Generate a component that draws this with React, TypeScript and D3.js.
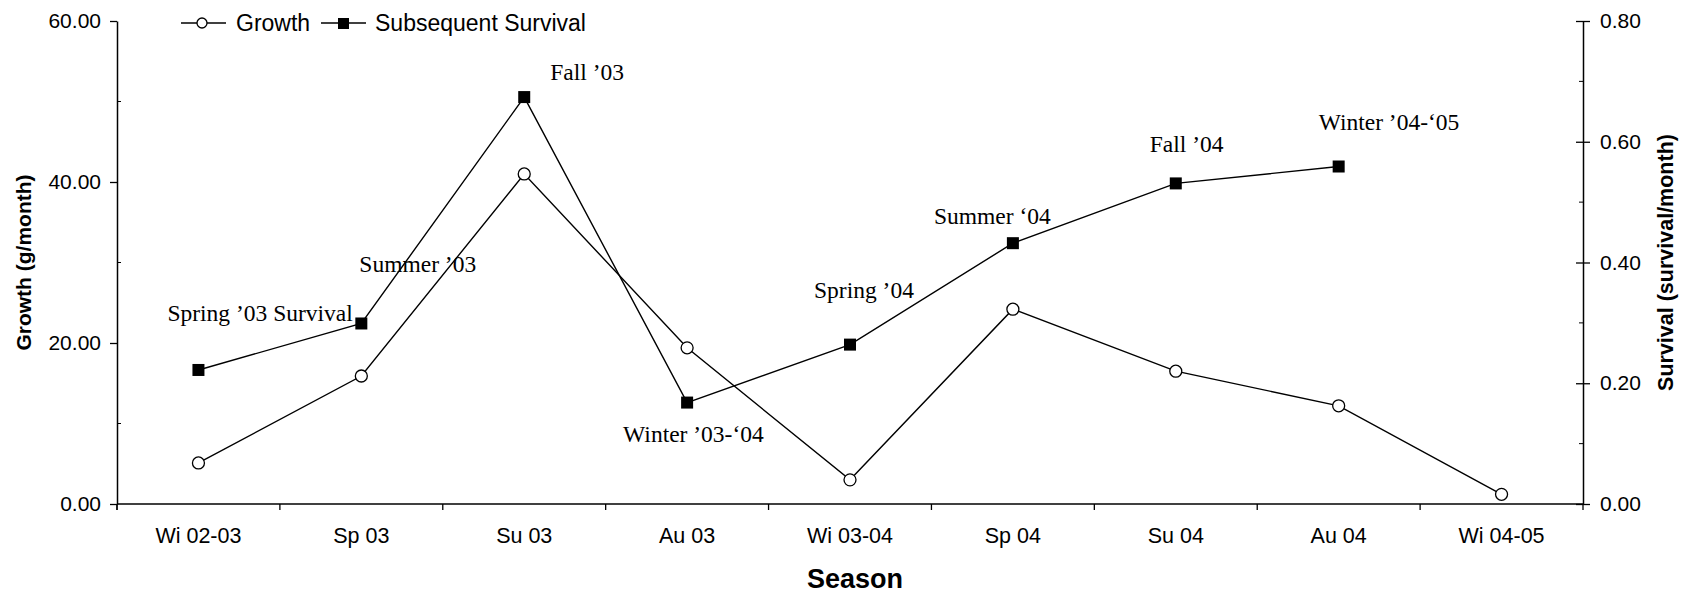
import React, { useEffect, useRef } from 'react';
import * as d3 from 'd3';

const seasons = ['Wi 02-03', 'Sp 03', 'Su 03', 'Au 03', 'Wi 03-04', 'Sp 04', 'Su 04', 'Au 04', 'Wi 04-05'];
const growth = [5.1, 15.9, 41.0, 19.4, 3.0, 24.2, 16.5, 12.2, 1.2];
const survival = [0.222, 0.299, 0.674, 0.168, 0.264, 0.432, 0.531, 0.559];
const survivalLabels = [
  'Spring ’03 Survival',
  'Summer ’03',
  'Fall ’03',
  'Winter ’03-‘04',
  'Spring ’04',
  'Summer ‘04',
  'Fall ’04',
  'Winter ’04-‘05',
];
const growthTicks = [0, 20, 40, 60];
const growthMinor = [10, 30, 50];
const survivalTicks = [0, 0.2, 0.4, 0.6, 0.8];
const survivalMinor = [0.1, 0.3, 0.5, 0.7];

// label nudges relative to the survival marker
const labelOffsets: [number, number][] = [
  [-31, -49], [-2, -51], [26, -17], [-64, 39], [-36, -47], [-79, -19], [-26, -31], [-20, -37],
];

const W = 1689;
const H = 595;
const sans = 'Liberation Sans, Arial, sans-serif';
const serif = 'Liberation Serif, Times New Roman, serif';

export default function App() {
  const svgRef = useRef<SVGSVGElement>(null);

  useEffect(() => {
    if (!svgRef.current) return;
    const svg = d3.select(svgRef.current);
    svg.selectAll('*').remove();

    const margin = { top: 21, right: 106, bottom: 91, left: 117 };
    const x0 = margin.left;
    const x1 = W - margin.right;
    const y0 = H - margin.bottom;
    const y1 = margin.top;

    const x = d3.scaleBand<string>().domain(seasons).range([x0, x1]).padding(0);
    const cx = (i: number) => (x(seasons[i]) || 0) + x.bandwidth() / 2;
    const yL = d3.scaleLinear().domain([0, 60]).range([y0, y1]);
    const yR = d3.scaleLinear().domain([0, 0.8]).range([y0, y1]);

    const fmt = d3.format('.2f');

    // bottom axis
    const xAxis = svg.append('g').attr('transform', `translate(0,${y0})`);
    xAxis.append('line').attr('x1', x0).attr('x2', x1).attr('stroke', '#000').attr('stroke-width', 1.5);
    xAxis.selectAll('line.tk')
      .data(d3.range(seasons.length + 1))
      .join('line')
      .attr('class', 'tk')
      .attr('x1', i => x0 + i * x.bandwidth())
      .attr('x2', i => x0 + i * x.bandwidth())
      .attr('y1', 0)
      .attr('y2', 6)
      .attr('stroke', '#000')
      .attr('stroke-width', 1.3);
    xAxis.selectAll('text')
      .data(seasons)
      .join('text')
      .attr('x', (_, i) => cx(i))
      .attr('y', 39)
      .attr('text-anchor', 'middle')
      .attr('font-family', sans)
      .attr('font-size', 21.5)
      .text(d => d);

    // left axis
    const lAxis = svg.append('g')
      .attr('transform', `translate(${x0},0)`)
      .call(d3.axisLeft(yL).tickValues(growthTicks).tickSize(7).tickSizeOuter(0).tickPadding(9).tickFormat(d => fmt(d as number)));
    lAxis.select('.domain').attr('stroke-width', 1.5);
    lAxis.selectAll('line').attr('stroke-width', 1.3);
    lAxis.selectAll('text').attr('font-family', sans).attr('font-size', 21).attr('fill', '#000');
    lAxis.selectAll('line.minor')
      .data(growthMinor)
      .join('line')
      .attr('class', 'minor')
      .attr('x1', 0)
      .attr('x2', 4)
      .attr('y1', d => yL(d))
      .attr('y2', d => yL(d))
      .attr('stroke', '#000');
    lAxis.append('line').attr('y1', y0).attr('y2', y0 + 6).attr('stroke', '#000').attr('stroke-width', 1.3);

    // right axis
    const rAxis = svg.append('g')
      .attr('transform', `translate(${x1},0)`)
      .call(d3.axisRight(yR).tickValues(survivalTicks).tickSize(7).tickSizeOuter(0).tickPadding(10).tickFormat(d => fmt(d as number)));
    rAxis.select('.domain').attr('stroke-width', 1.5);
    rAxis.selectAll('.tick line').attr('x1', -7).attr('stroke-width', 1.3);
    rAxis.selectAll('text').attr('font-family', sans).attr('font-size', 21).attr('fill', '#000');
    rAxis.selectAll('line.minor')
      .data(survivalMinor)
      .join('line')
      .attr('class', 'minor')
      .attr('x1', -4)
      .attr('x2', 0)
      .attr('y1', d => yR(d))
      .attr('y2', d => yR(d))
      .attr('stroke', '#000');

    // axis titles
    svg.append('text')
      .attr('transform', `translate(31,${(y0 + y1) / 2}) rotate(-90)`)
      .attr('text-anchor', 'middle')
      .attr('font-family', sans)
      .attr('font-weight', 'bold')
      .attr('font-size', 21)
      .text('Growth (g/month)');
    svg.append('text')
      .attr('transform', `translate(1673,${(y0 + y1) / 2}) rotate(-90)`)
      .attr('text-anchor', 'middle')
      .attr('font-family', sans)
      .attr('font-weight', 'bold')
      .attr('font-size', 21.5)
      .text('Survival (survival/month)');
    svg.append('text')
      .attr('x', 855)
      .attr('y', 588)
      .attr('text-anchor', 'middle')
      .attr('font-family', sans)
      .attr('font-weight', 'bold')
      .attr('font-size', 27)
      .text('Season');

    // lines
    const lineG = d3.line<number>().x((_, i) => cx(i)).y(d => yL(d));
    const lineS = d3.line<number>().x((_, i) => cx(i)).y(d => yR(d));
    svg.append('path').attr('d', lineG(growth) || '').attr('fill', 'none').attr('stroke', '#000').attr('stroke-width', 1.4);
    svg.append('path').attr('d', lineS(survival) || '').attr('fill', 'none').attr('stroke', '#000').attr('stroke-width', 1.4);

    svg.selectAll('circle.g')
      .data(growth)
      .join('circle')
      .attr('class', 'g')
      .attr('cx', (_, i) => cx(i))
      .attr('cy', d => yL(d))
      .attr('r', 6)
      .attr('fill', '#fff')
      .attr('stroke', '#000')
      .attr('stroke-width', 1.3);

    svg.selectAll('rect.s')
      .data(survival)
      .join('rect')
      .attr('class', 's')
      .attr('x', (_, i) => cx(i) - 6)
      .attr('y', d => yR(d) - 6)
      .attr('width', 12)
      .attr('height', 12)
      .attr('fill', '#000');

    // season labels
    svg.selectAll('text.lab')
      .data(survivalLabels)
      .join('text')
      .attr('class', 'lab')
      .attr('x', (_, i) => cx(i) + labelOffsets[i][0])
      .attr('y', (_, i) => yR(survival[i]) + labelOffsets[i][1])
      .attr('font-family', serif)
      .attr('font-size', 23.5)
      .text(d => d);

    // legend
    const leg = svg.append('g').attr('transform', 'translate(181,23)');
    leg.append('line').attr('x1', 0).attr('x2', 45).attr('stroke', '#000').attr('stroke-width', 1.3);
    leg.append('circle').attr('cx', 21).attr('r', 5).attr('fill', '#fff').attr('stroke', '#000').attr('stroke-width', 1.3);
    leg.append('text').attr('x', 55).attr('y', 8).attr('font-family', sans).attr('font-size', 23).text('Growth');
    leg.append('line').attr('x1', 140).attr('x2', 185).attr('stroke', '#000').attr('stroke-width', 1.3);
    leg.append('rect').attr('x', 157).attr('y', -5).attr('width', 11).attr('height', 11).attr('fill', '#000');
    leg.append('text').attr('x', 194).attr('y', 8).attr('font-family', sans).attr('font-size', 23).text('Subsequent Survival');
  }, []);

  return (
    <svg
      ref={svgRef}
      width={W}
      height={H}
      style={{ position: 'absolute', left: 0, top: 0, background: '#fff', display: 'block' }}
    />
  );
}
